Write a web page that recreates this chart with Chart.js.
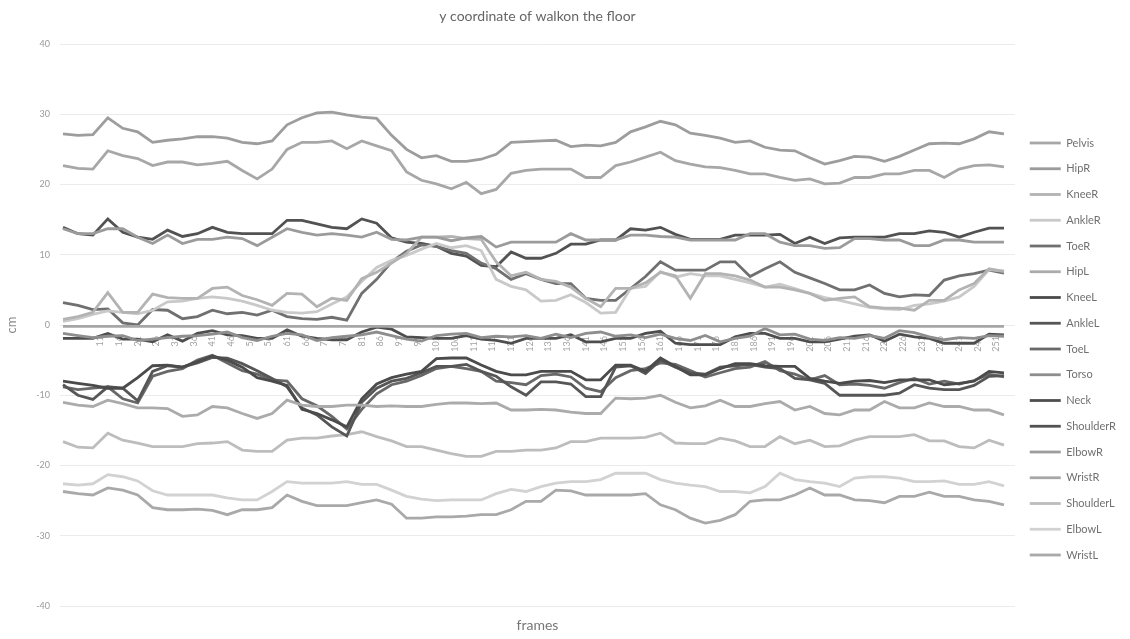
<!DOCTYPE html>
<html>
<head>
<meta charset="utf-8">
<script src="https://cdn.jsdelivr.net/npm/chart.js@4.4.1/dist/chart.umd.min.js"></script>
<style>
html,body{margin:0;padding:0;background:#ffffff;}
#wrap{width:1130px;height:639px;}
</style>
</head>
<body>
<div id="wrap"><canvas id="c" width="1130" height="639"></canvas></div>
<script>
// ---- data (frame numbers of the sampled points, tick labels, series) ----
const frames = [1,5,9,13,17,21,25,29,33,37,41,45,49,53,57,61,65,69,73,77,81,85,89,93,97,101,105,109,113,117,121,125,129,133,137,141,145,149,153,157,161,165,169,173,177,181,185,189,193,197,201,205,209,213,217,221,225,229,233,237,241,245,249,253];
const tickFrames = [11,16,21,26,31,36,41,46,51,56,61,66,71,76,81,86,91,96,101,106,111,116,121,126,131,136,141,146,151,156,161,166,171,176,181,186,191,196,201,206,211,216,221,226,231,236,241,246,251];

const pelvis = [-0.2,-0.2,-0.2,-0.2,-0.2,-0.2,-0.2,-0.2,-0.2,-0.2,-0.2,-0.2,-0.2,-0.2,-0.2,-0.2,-0.2,-0.2,-0.2,-0.2,-0.2,-0.2,-0.2,-0.2,-0.2,-0.2,-0.2,-0.2,-0.2,-0.2,-0.2,-0.2,-0.2,-0.2,-0.2,-0.2,-0.2,-0.2,-0.2,-0.2,-0.2,-0.2,-0.2,-0.2,-0.2,-0.2,-0.2,-0.2,-0.2,-0.2,-0.2,-0.2,-0.2,-0.2,-0.2,-0.2,-0.2,-0.2,-0.2,-0.2,-0.2,-0.2,-0.2,-0.2];
const hipR = [13.7,13.0,13.0,13.7,13.7,12.5,11.6,12.8,11.6,12.2,12.2,12.5,12.3,11.3,12.5,13.7,13.2,12.8,13.0,12.8,12.5,13.2,12.2,12.1,12.5,12.5,12.0,12.4,12.6,11.1,11.8,11.8,11.8,11.8,13.0,12.1,12.1,12.1,12.8,12.8,12.6,12.5,12.1,12.1,12.1,12.1,13.0,13.0,11.8,11.3,11.3,10.9,11.0,12.3,12.3,12.1,12.1,11.3,11.3,12.1,12.1,11.8,11.8,11.8];
const kneeR = [0.8,1.2,1.8,4.6,1.8,1.8,4.4,3.9,3.8,3.8,5.2,5.4,4.2,3.6,2.8,4.5,4.4,2.6,3.8,3.5,6.6,7.5,8.8,10.2,12.5,12.5,12.6,12.3,12.2,9.0,7.0,7.5,6.5,6.2,5.4,3.8,2.6,5.2,5.2,6.0,7.5,7.0,3.8,7.3,7.3,7.0,6.4,5.4,5.4,5.0,4.5,3.5,3.8,4.0,2.6,2.4,2.4,2.1,3.5,3.5,5.0,5.9,8.0,7.6];
const ankleR = [0.5,0.9,1.5,2.0,1.8,1.6,2.1,3.3,3.4,3.8,4.0,3.8,3.4,2.8,2.1,1.8,1.7,1.9,3.0,4.0,6.2,8.2,9.2,9.9,10.8,11.6,11.0,11.3,10.6,6.5,5.5,5.0,3.4,3.5,4.3,3.2,1.7,1.8,5.2,5.5,7.6,6.8,7.3,7.0,7.0,6.5,6.0,5.4,5.8,5.2,4.5,3.9,3.5,3.0,2.5,2.3,2.2,2.8,3.0,3.4,4.0,5.5,7.9,7.7];
const toeR = [3.2,2.8,2.2,2.3,0.3,0.0,2.2,2.1,0.9,1.2,2.1,1.6,1.8,1.4,2.1,1.2,0.9,0.8,1.1,0.7,4.5,6.5,9.0,10.5,11.4,11.2,10.6,10.2,8.8,8.0,6.5,7.3,6.5,5.9,5.9,3.8,3.5,3.5,5.2,6.9,9.0,7.8,7.8,7.8,9.0,9.0,6.9,8.0,9.0,7.5,6.7,5.9,5.0,5.0,5.7,4.5,4.0,4.3,4.2,6.4,7.0,7.3,7.8,7.4];
const hipL = [-11.0,-11.4,-11.6,-10.7,-11.2,-11.8,-11.8,-11.9,-13.0,-12.8,-11.6,-11.8,-12.6,-13.3,-12.6,-10.7,-11.4,-11.6,-11.6,-11.4,-11.4,-11.6,-11.5,-11.6,-11.6,-11.3,-11.1,-11.1,-11.2,-11.1,-12.1,-12.1,-12.0,-12.1,-12.4,-12.6,-12.6,-10.4,-10.5,-10.4,-10.0,-11.0,-11.8,-11.5,-10.7,-11.6,-11.6,-11.2,-10.9,-12.1,-11.6,-12.6,-12.8,-12.1,-12.1,-10.9,-11.8,-11.8,-11.1,-11.6,-11.6,-12.1,-12.1,-12.8];
const kneeL = [-8.0,-8.3,-8.6,-9.0,-9.0,-7.5,-5.8,-5.7,-6.0,-5.2,-4.4,-5.0,-6.0,-7.5,-8.0,-8.6,-12.0,-12.6,-13.5,-14.5,-10.5,-8.4,-7.5,-7.0,-6.6,-4.8,-4.7,-4.7,-5.7,-6.6,-7.1,-7.1,-6.6,-6.6,-6.6,-7.8,-7.8,-5.7,-5.7,-6.6,-4.7,-5.9,-7.1,-7.1,-6.2,-5.5,-5.5,-5.8,-5.9,-5.9,-7.6,-8.0,-8.3,-8.0,-7.9,-8.2,-7.8,-7.8,-7.8,-8.5,-8.3,-8.0,-6.6,-6.8];
const ankleL = [-8.5,-10.0,-10.6,-8.8,-9.0,-10.8,-6.6,-5.8,-6.0,-5.4,-4.6,-4.7,-5.5,-6.5,-7.6,-8.8,-11.8,-12.8,-14.5,-15.8,-11.0,-9.0,-8.0,-7.6,-6.8,-5.9,-5.9,-5.6,-6.6,-7.3,-8.8,-10.0,-8.1,-8.1,-8.4,-10.2,-10.2,-6.0,-5.8,-6.9,-5.0,-6.0,-6.8,-7.0,-6.0,-5.8,-5.6,-6.0,-6.2,-7.6,-7.8,-8.3,-10.0,-10.0,-10.0,-10.0,-9.7,-8.5,-9.0,-9.2,-9.2,-8.6,-7.3,-7.2];
const toeL = [-8.8,-9.2,-9.0,-8.8,-10.5,-11.1,-7.3,-6.6,-6.2,-5.0,-4.3,-5.4,-6.5,-7.0,-7.8,-8.0,-10.5,-11.5,-13.0,-14.8,-12.0,-9.8,-8.5,-8.0,-7.2,-6.2,-5.9,-6.2,-6.6,-8.0,-8.2,-8.5,-7.2,-7.0,-7.4,-9.0,-9.5,-7.5,-6.5,-6.2,-5.4,-5.6,-6.5,-7.4,-6.8,-6.2,-6.0,-5.2,-6.5,-7.0,-7.8,-7.2,-8.5,-8.4,-8.6,-9.0,-8.2,-7.6,-8.4,-8.0,-8.4,-7.9,-7.0,-7.4];
const torso = [-1.2,-1.5,-1.8,-1.6,-1.5,-2.2,-2.0,-1.8,-1.6,-1.5,-1.3,-1.0,-1.8,-2.2,-1.6,-1.2,-1.4,-2.2,-1.8,-1.6,-1.4,-1.0,-1.5,-2.0,-2.3,-1.5,-1.3,-1.2,-1.8,-1.6,-1.7,-1.5,-1.9,-1.3,-1.8,-1.2,-1.0,-1.6,-1.4,-1.8,-1.3,-1.9,-2.2,-1.5,-2.4,-1.9,-1.6,-0.5,-1.4,-1.3,-2.0,-2.2,-1.8,-1.9,-1.5,-1.9,-0.8,-1.1,-1.7,-2.1,-1.8,-1.9,-1.5,-1.6];
const neck = [-1.9,-1.9,-1.9,-1.2,-2.0,-2.0,-2.4,-1.4,-2.3,-1.2,-0.8,-1.4,-1.5,-1.9,-1.9,-0.7,-1.6,-1.9,-2.1,-2.1,-1.0,-0.3,-0.6,-1.7,-1.8,-1.9,-1.9,-1.5,-2.0,-2.2,-2.6,-1.9,-1.9,-1.9,-1.4,-2.4,-2.4,-1.9,-1.9,-1.2,-0.9,-2.6,-2.8,-2.8,-2.8,-1.7,-1.2,-1.2,-1.9,-1.9,-2.4,-2.4,-2.0,-1.6,-1.4,-2.3,-1.3,-1.7,-1.9,-2.6,-2.6,-2.6,-1.3,-1.4];
const shoulderR = [13.9,13.0,12.8,15.1,13.2,12.5,12.2,13.5,12.6,13.0,13.9,13.2,13.0,13.0,13.0,14.9,14.9,14.4,13.9,13.7,15.1,14.5,12.4,11.8,11.6,11.2,10.2,9.8,8.5,8.3,10.4,9.5,9.5,10.2,11.5,11.5,12.1,12.1,13.7,13.5,13.9,12.9,12.2,12.2,12.2,12.8,12.8,12.8,12.9,11.6,12.5,11.6,12.4,12.5,12.5,12.5,13.0,13.0,13.4,13.2,12.5,13.2,13.8,13.8];
const elbowR = [27.2,27.0,27.1,29.5,28.0,27.5,26.0,26.3,26.5,26.8,26.8,26.6,26.0,25.8,26.2,28.5,29.5,30.2,30.3,29.9,29.6,29.4,27.0,25.0,23.8,24.1,23.3,23.3,23.6,24.3,26.0,26.1,26.2,26.3,25.4,25.6,25.5,26.0,27.5,28.2,29.0,28.5,27.3,27.0,26.6,26.0,26.2,25.3,24.9,24.8,23.8,22.9,23.4,24.0,23.9,23.3,24.0,24.9,25.8,25.9,25.8,26.5,27.5,27.2];
const wristR = [22.7,22.3,22.2,24.8,24.1,23.7,22.7,23.2,23.2,22.8,23.0,23.3,22.0,20.8,22.2,25.0,26.0,26.0,26.2,25.1,26.2,25.5,24.8,21.8,20.6,20.1,19.4,20.3,18.7,19.3,21.6,22.0,22.2,22.2,22.2,21.0,21.0,22.7,23.2,23.9,24.6,23.4,22.9,22.5,22.4,22.0,21.5,21.5,21.0,20.6,20.8,20.1,20.2,21.0,21.0,21.5,21.5,22.0,22.0,21.0,22.2,22.7,22.8,22.5];
const shoulderL = [-16.6,-17.4,-17.5,-15.4,-16.4,-16.8,-17.3,-17.3,-17.3,-16.9,-16.8,-16.6,-17.8,-18.0,-18.0,-16.4,-16.1,-16.1,-15.8,-15.6,-15.2,-15.9,-16.5,-17.3,-17.3,-17.8,-18.3,-18.7,-18.7,-18.0,-18.0,-17.8,-17.8,-17.5,-16.6,-16.6,-16.1,-16.1,-16.1,-16.0,-15.4,-16.8,-16.9,-16.9,-16.1,-16.5,-17.3,-17.3,-15.9,-16.9,-16.4,-17.3,-17.2,-16.4,-15.9,-15.9,-15.9,-15.6,-16.5,-16.5,-17.3,-17.5,-16.4,-17.1];
const elbowL = [-22.6,-22.8,-22.6,-21.3,-21.6,-22.2,-23.6,-24.2,-24.2,-24.2,-24.2,-24.6,-24.9,-24.9,-23.7,-22.3,-22.5,-22.5,-22.5,-22.3,-22.7,-22.7,-23.5,-24.4,-24.8,-25.0,-24.9,-24.9,-24.9,-24.0,-23.4,-23.7,-23.0,-22.5,-22.3,-22.3,-22.0,-21.1,-21.1,-21.1,-22.0,-22.5,-22.8,-23.0,-23.7,-23.7,-23.9,-23.0,-21.1,-22.0,-22.3,-22.5,-23.0,-21.8,-21.6,-21.6,-21.8,-22.3,-22.3,-22.2,-22.7,-22.7,-22.3,-22.9];
const wristL = [-23.7,-24.0,-24.2,-23.2,-23.5,-24.2,-26.0,-26.3,-26.3,-26.2,-26.4,-27.0,-26.3,-26.3,-26.0,-24.2,-25.1,-25.7,-25.7,-25.7,-25.3,-24.9,-25.5,-27.5,-27.5,-27.3,-27.3,-27.2,-27.0,-27.0,-26.3,-25.1,-25.1,-23.5,-23.6,-24.2,-24.2,-24.2,-24.2,-24.0,-25.6,-26.3,-27.5,-28.2,-27.8,-27.0,-25.1,-24.9,-24.9,-24.2,-23.2,-24.2,-24.2,-24.9,-25.0,-25.3,-24.4,-24.4,-23.8,-24.4,-24.4,-24.9,-25.1,-25.6];

const seriesNames = ['Pelvis','HipR','KneeR','AnkleR','ToeR','HipL','KneeL','AnkleL','ToeL','Torso','Neck','ShoulderR','ElbowR','WristR','ShoulderL','ElbowL','WristL'];
const seriesValues = [pelvis,hipR,kneeR,ankleR,toeR,hipL,kneeL,ankleL,toeL,torso,neck,shoulderR,elbowR,wristR,shoulderL,elbowL,wristL];

// ---- styles (kept apart from the data) ----
const seriesColors = ['#a6a6a6','#9b9b9b','#b3b3b3','#c9c9c9','#707070','#ababab','#4b4b4b','#565656','#686868','#8e8e8e','#4e4e4e','#525252','#9d9d9d','#a7a7a7','#bdbdbd','#d2d2d2','#a9a9a9'];
const FONT = 'Lato, "Open Sans", "DejaVu Sans", sans-serif';

const datasets = seriesNames.map((name, k) => ({
  label: name,
  data: frames.map((f, i) => ({ x: f, y: seriesValues[k][i] })),
  borderColor: seriesColors[k],
  backgroundColor: seriesColors[k],
  borderWidth: 2.8,
  pointRadius: 0,
  tension: 0,
  fill: false
}));

new Chart(document.getElementById('c'), {
  type: 'line',
  data: { datasets },
  options: {
    responsive: false,
    animation: false,
    events: [],
    layout: { padding: { left: 0, right: 4, top: 0, bottom: 0 } },
    scales: {
      x: {
        type: 'linear',
        position: { y: 0 },
        min: 0.196,
        max: 255.95,
        grid: { display: false },
        border: { display: false },
        afterBuildTicks: (axis) => { axis.ticks = tickFrames.map(v => ({ value: v })); },
        ticks: {
          autoSkip: false, minRotation: 90, maxRotation: 90, padding: 3,
          color: '#a3a3a3', font: { family: FONT, size: 9 },
          callback: (v) => String(v)
        }
      },
      y: {
        min: -40, max: 40,
        ticks: { stepSize: 10, color: '#9a9a9a', font: { family: FONT, size: 9 }, padding: 10 },
        grid: { color: '#ebebeb', lineWidth: 1, drawTicks: false },
        border: { display: false },
        title: { display: true, text: 'cm', color: '#8a8a8a', font: { family: FONT, size: 13 }, padding: { top: 4, bottom: 0 } },
        afterFit: (s) => { s.width = 60; }
      }
    },
    plugins: {
      title: {
        display: true, text: 'y coordinate of walkon the floor', fullSize: false,
        color: '#666666', font: { family: FONT, size: 14, weight: 'normal' },
        padding: { top: 8, bottom: 19.2 }
      },
      subtitle: {
        display: true, text: 'frames', position: 'bottom', fullSize: false,
        color: '#777777', font: { family: FONT, size: 14, weight: 'normal' },
        padding: { top: 10.6, bottom: 5.6 }
      },
      legend: {
        position: 'right', align: 'center', fullSize: false,
        title: { display: true, text: ' ', font: { size: 12 }, padding: { top: 33.6, bottom: 0 } },
        labels: {
          usePointStyle: true, pointStyle: 'line', pointStyleWidth: 31,
          padding: 14.75, color: '#707070', font: { family: FONT, size: 11 }
        }
      },
      tooltip: { enabled: false }
    }
  }
});
</script>
</body>
</html>
